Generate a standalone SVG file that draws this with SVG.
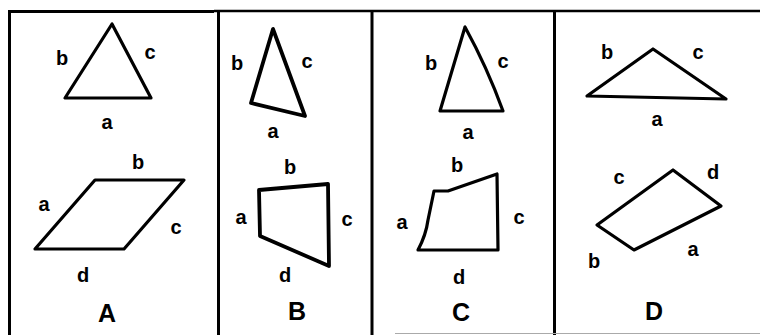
<svg xmlns="http://www.w3.org/2000/svg" width="760" height="335" viewBox="0 0 760 335">
<style>
.frame{stroke:#000;stroke-width:3;fill:none}
.sh{stroke:#000;stroke-width:3.2;fill:none;stroke-linejoin:round;stroke-linecap:round}
.thick{stroke-width:3.8}
.lb{font-family:"Liberation Sans",Arial,sans-serif;font-weight:bold;font-size:20px;fill:#000;text-anchor:middle}
.cap{font-family:"Liberation Sans",Arial,sans-serif;font-weight:bold;font-size:25px;fill:#000;text-anchor:middle}
</style>
<rect width="760" height="335" fill="#fff"/>
<g id="frame">
<path class="frame" d="M9.5,335 V11.5 H214"/>
<path class="frame" d="M214,11 H760" style="stroke-width:2.5"/>
<line class="frame" x1="218.5" y1="11" x2="218.5" y2="335"/>
<line class="frame" x1="372" y1="11" x2="372" y2="335"/>
<line class="frame" x1="554.5" y1="10" x2="554.5" y2="335"/>
<line x1="395" y1="333.5" x2="760" y2="333.5" stroke="#aaa" stroke-width="1"/>
</g>
<g id="panelA">
<g id="A-triangle">
<polygon class="sh" points="112,24 65,98 151,98"/>
<text class="lb" x="62" y="65">b</text>
<text class="lb" x="150" y="59">c</text>
<text class="lb" x="107" y="129">a</text>
</g>
<g id="A-quad">
<polygon class="sh" points="95,180 184,180 124,249 35,249"/>
<text class="lb" x="138" y="169">b</text>
<text class="lb" x="44" y="211">a</text>
<text class="lb" x="176" y="234">c</text>
<text class="lb" x="83" y="282">d</text>
</g>
<text class="cap" x="107" y="322">A</text>
</g>
<g id="panelB">
<g id="B-triangle">
<polygon class="sh thick" points="273,29 251,103 305,116"/>
<text class="lb" x="237" y="70">b</text>
<text class="lb" x="307" y="68">c</text>
<text class="lb" x="273" y="138">a</text>
</g>
<g id="B-quad">
<polygon class="sh thick" points="259,190 328,184 329,266 260,236"/>
<text class="lb" x="290" y="174">b</text>
<text class="lb" x="241" y="224">a</text>
<text class="lb" x="347" y="226">c</text>
<text class="lb" x="285" y="282">d</text>
</g>
<text class="cap" x="297" y="320">B</text>
</g>
<g id="panelC">
<g id="C-triangle">
<path class="sh" d="M465,27 L440,111 L503,111 Q487,67 465,27 Z"/>
<text class="lb" x="431" y="70">b</text>
<text class="lb" x="503" y="68">c</text>
<text class="lb" x="468" y="139">a</text>
</g>
<g id="C-quad">
<path class="sh" d="M434,191 L448,191 L497,174 L498,250 L418,250 Q426,235 428,220 Z"/>
<text class="lb" x="457" y="172">b</text>
<text class="lb" x="402" y="229">a</text>
<text class="lb" x="519" y="224">c</text>
<text class="lb" x="459" y="284">d</text>
</g>
<text class="cap" x="461" y="321">C</text>
</g>
<g id="panelD">
<g id="D-triangle">
<polygon class="sh" points="653,49 587,96 726,99"/>
<text class="lb" x="607" y="59">b</text>
<text class="lb" x="698" y="59">c</text>
<text class="lb" x="657" y="126">a</text>
</g>
<g id="D-quad">
<polygon class="sh" points="673,170 721,206 634,250 597,225"/>
<text class="lb" x="619" y="184">c</text>
<text class="lb" x="713" y="179">d</text>
<text class="lb" x="693" y="256">a</text>
<text class="lb" x="594" y="268">b</text>
</g>
<text class="cap" x="654" y="320">D</text>
</g>
</svg>
